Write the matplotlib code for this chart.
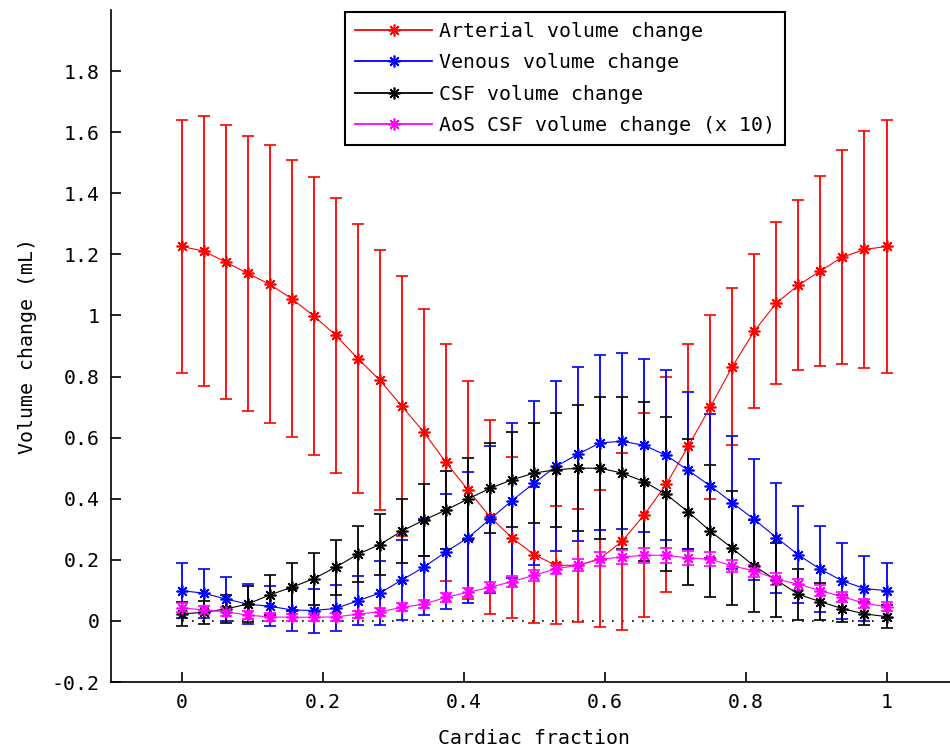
import numpy as np
import matplotlib
matplotlib.use('Agg')
import matplotlib.pyplot as plt
from matplotlib.lines import Line2D

# cardiac fraction, 33 phases
cardiac_fraction = np.linspace(0, 1, 33)

arterial = [1.226, 1.211, 1.175, 1.138, 1.102, 1.055, 0.999, 0.935, 0.859, 0.788, 0.703,
            0.618, 0.519, 0.429, 0.341, 0.272, 0.217, 0.182, 0.182, 0.204, 0.261, 0.347,
            0.447, 0.572, 0.700, 0.832, 0.949, 1.041, 1.099, 1.146, 1.191, 1.216, 1.226]
arterial_err = [0.414, 0.441, 0.450, 0.451, 0.455, 0.454, 0.455, 0.451, 0.440, 0.426, 0.425,
                0.404, 0.387, 0.357, 0.317, 0.264, 0.223, 0.193, 0.185, 0.225, 0.290, 0.335,
                0.351, 0.335, 0.300, 0.257, 0.253, 0.265, 0.278, 0.310, 0.351, 0.388, 0.414]

venous = [0.099, 0.091, 0.072, 0.055, 0.048, 0.036, 0.034, 0.041, 0.066, 0.091, 0.134,
          0.176, 0.226, 0.272, 0.333, 0.394, 0.451, 0.506, 0.546, 0.583, 0.588, 0.575,
          0.542, 0.493, 0.442, 0.387, 0.332, 0.273, 0.216, 0.169, 0.131, 0.106, 0.099]
venous_err = [0.090, 0.080, 0.072, 0.065, 0.065, 0.070, 0.072, 0.075, 0.080, 0.105, 0.130,
              0.158, 0.188, 0.214, 0.240, 0.255, 0.268, 0.278, 0.285, 0.286, 0.288, 0.284,
              0.278, 0.258, 0.235, 0.218, 0.197, 0.180, 0.159, 0.141, 0.125, 0.107, 0.090]

csf = [0.023, 0.028, 0.039, 0.055, 0.085, 0.110, 0.138, 0.176, 0.218, 0.250, 0.294,
       0.330, 0.363, 0.399, 0.434, 0.462, 0.484, 0.495, 0.500, 0.500, 0.484, 0.456,
       0.414, 0.357, 0.294, 0.238, 0.179, 0.134, 0.087, 0.063, 0.040, 0.023, 0.014]
csf_err = [0.040, 0.037, 0.047, 0.058, 0.065, 0.079, 0.085, 0.090, 0.092, 0.099, 0.105,
           0.119, 0.129, 0.135, 0.147, 0.155, 0.163, 0.186, 0.207, 0.232, 0.250, 0.260,
           0.252, 0.240, 0.217, 0.187, 0.151, 0.120, 0.084, 0.060, 0.045, 0.038, 0.038]

aos_csf = [0.043, 0.036, 0.030, 0.019, 0.013, 0.012, 0.012, 0.013, 0.022, 0.030, 0.044,
           0.055, 0.077, 0.094, 0.110, 0.129, 0.149, 0.171, 0.182, 0.202, 0.209, 0.215,
           0.215, 0.206, 0.202, 0.180, 0.164, 0.137, 0.120, 0.099, 0.079, 0.058, 0.046]
aos_csf_err = [0.015, 0.014, 0.014, 0.013, 0.012, 0.012, 0.012, 0.012, 0.012, 0.013, 0.013,
               0.014, 0.015, 0.015, 0.016, 0.017, 0.018, 0.019, 0.020, 0.022, 0.023, 0.024,
               0.024, 0.023, 0.022, 0.021, 0.020, 0.019, 0.018, 0.017, 0.016, 0.015, 0.015]

series = [
    ('Arterial volume change', arterial, arterial_err, '#FF0000'),
    ('Venous volume change', venous, venous_err, '#0000FF'),
    ('CSF volume change', csf, csf_err, '#000000'),
    ('AoS CSF volume change (x 10)', aos_csf, aos_csf_err, '#FF00FF'),
]

y_ticks = [-0.2, 0, 0.2, 0.4, 0.6, 0.8, 1, 1.2, 1.4, 1.6, 1.8]
y_tick_labels = ['-0.2', '0', '0.2', '0.4', '0.6', '0.8', '1', '1.2', '1.4', '1.6', '1.8']
x_ticks = [0, 0.2, 0.4, 0.6, 0.8, 1]
x_tick_labels = ['0', '0.2', '0.4', '0.6', '0.8', '1']

plt.rcParams['font.family'] = ['DejaVu Sans Mono']
FS = 14.3

fig = plt.figure(figsize=(9.5, 7.51), dpi=100)
ax = fig.add_axes([111 / 950, 69 / 751, 846 / 950, 672 / 751])

star = (8, 2, 0)
handles = []
for label, vals, errs, col in series:
    ax.errorbar(cardiac_fraction, vals, yerr=errs, color=col, ecolor=col,
                linewidth=0.8, elinewidth=1.3, capsize=4, capthick=1.3,
                marker=star, markersize=8.5, markeredgewidth=1.2)
    handles.append(Line2D([], [], color=col, linewidth=1.3, marker=star,
                          markersize=8.5, markeredgewidth=1.2, label=label))

ax.plot([0, 1], [0, 0], color='black', linestyle=(0, (1, 5)), linewidth=1.2, zorder=0)

ax.set_xlim(-0.1, 1.1)
ax.set_ylim(-0.2, 2.0)
ax.set_xticks(x_ticks)
ax.set_xticklabels(x_tick_labels)
ax.set_yticks(y_ticks)
ax.set_yticklabels(y_tick_labels)
ax.tick_params(direction='in', length=7, width=1.2, labelsize=FS, pad=8)
ax.spines['top'].set_visible(False)
ax.spines['right'].set_visible(False)
ax.spines['left'].set_linewidth(1.2)
ax.spines['bottom'].set_linewidth(1.2)

ax.set_xlabel('Cardiac fraction', fontsize=FS, labelpad=12)
ax.set_ylabel('Volume change (mL)', fontsize=FS, labelpad=11)

leg = ax.legend(handles=handles, loc='upper left', bbox_to_anchor=(345 / 950, 1 - 12 / 751),
                bbox_transform=fig.transFigure, frameon=True, fancybox=False,
                edgecolor='black', framealpha=1, fontsize=FS,
                handlelength=3.9, handletextpad=0.35, borderpad=0.5,
                labelspacing=0.62, borderaxespad=0)
leg.get_frame().set_linewidth(1.5)

plt.savefig('out.png', dpi=100, facecolor='white')
